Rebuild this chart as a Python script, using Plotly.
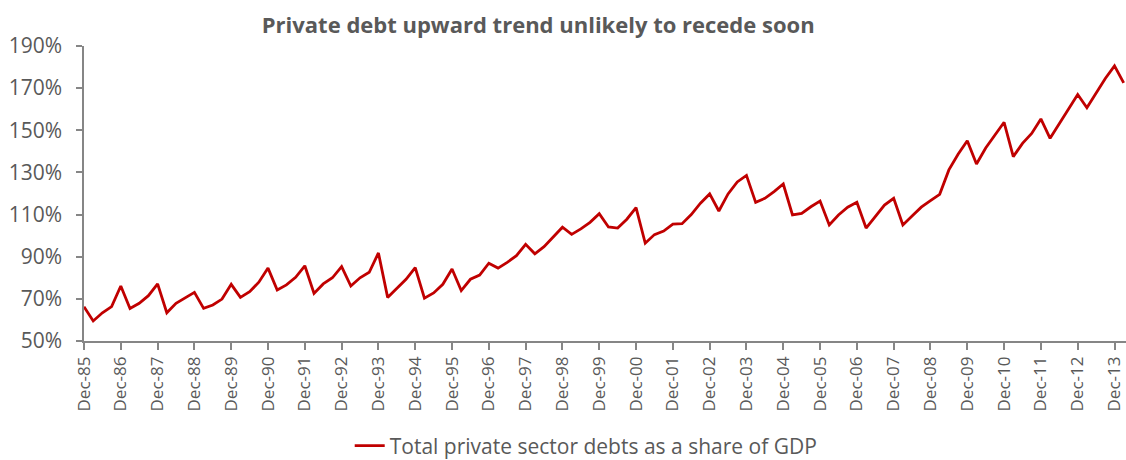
import plotly.graph_objects as go

# Quarterly periods Dec-85 .. Mar-14
months = ["Mar", "Jun", "Sep", "Dec"]
quarters = ["Dec-85"] + [f"{m}-{y % 100:02d}" for y in range(1986, 2014) for m in months] + ["Mar-14"]

debt_share = [
    66.3,
    59.5, 63.4, 66.3, 76.1,
    65.4, 67.9, 71.5, 77.1,
    63.4, 67.9, 70.7, 73.1,
    65.5, 67.1, 69.9, 76.9,
    70.7, 73.4, 77.9, 84.6,
    74.2, 76.6, 80.2, 85.7,
    72.6, 77.1, 80.0, 85.3,
    76.1, 80.0, 82.6, 91.8,
    70.7, 75.0, 79.3, 84.8,
    70.3, 72.8, 76.9, 84.2,
    73.9, 79.3, 81.3, 86.9,
    84.6, 87.3, 90.5, 95.9,
    91.4, 94.8, 99.5, 104.0,
    100.6, 103.2, 106.3, 110.4,
    104.1, 103.6, 107.8, 113.3,
    96.4, 100.5, 102.2, 105.5,
    105.7, 110.0, 115.4, 119.8,
    111.7, 119.8, 125.5, 128.6,
    115.8, 117.7, 120.9, 124.5,
    109.8, 110.6, 113.7, 116.4,
    105.1, 109.8, 113.5, 115.8,
    103.6, 109.3, 114.5, 117.7,
    105.1, 109.3, 113.5, 116.6,
    119.6, 131.2, 138.6, 145.0,
    134.0, 141.6, 147.8, 153.8,
    137.5, 143.8, 148.5, 155.4,
    146.2, 153.0, 160.1, 167.0,
    160.7, 167.5, 174.6, 180.6,
    172.5,
]

tick_labels = [q for q in quarters if q.startswith("Dec")]
y_ticks = [50, 70, 90, 110, 130, 150, 170, 190]

title_text = "Private debt upward trend unlikely to recede soon"
series_name = "Total private sector debts as a share of GDP"

FONT = "Open Sans, Liberation Sans, sans-serif"
GRAY = "#595959"
AXIS = "#868686"

fig = go.Figure()
fig.add_trace(go.Scatter(
    x=quarters, y=debt_share, mode="lines", name=series_name,
    line=dict(color="#C00000", width=2.8),
))

fig.update_layout(
    width=1126, height=460,
    margin=dict(l=84, r=0, t=46, b=119),
    paper_bgcolor="white", plot_bgcolor="white",
    font=dict(family=FONT, color=GRAY),
    title=dict(text=f"<b>{title_text}</b>", x=0.478, xref="container", xanchor="center",
               y=1 - 25 / 460, yref="container", yanchor="middle",
               font=dict(size=22, color=GRAY, family=FONT)),
    showlegend=True,
    legend=dict(orientation="h", x=0.255, xanchor="left", y=(460 - 446) / 460,
                yref="container", yanchor="middle",
                font=dict(size=21, color=GRAY, family=FONT), bgcolor="rgba(0,0,0,0)"),
)

fig.update_xaxes(
    type="category", categoryorder="array", categoryarray=quarters,
    range=[0, len(quarters) - 1 + 0.25],
    tickmode="array", tickvals=tick_labels, ticktext=tick_labels,
    tickangle=-90, tickfont=dict(size=17, color=GRAY, family=FONT),
    ticks="outside", ticklen=7, tickcolor=AXIS, tickwidth=1.5,
    showline=True, linecolor=AXIS, linewidth=1.5,
    showgrid=False, zeroline=False, fixedrange=True,
)
fig.update_yaxes(
    range=[50, 190], tickmode="array", tickvals=y_ticks,
    ticktext=[f"{v}%" for v in y_ticks],
    tickfont=dict(size=21, color=GRAY, family=FONT),
    ticks="outside", ticklen=6, tickcolor=AXIS, tickwidth=1.5, ticklabelstandoff=10,
    showline=True, linecolor=AXIS, linewidth=1.5,
    showgrid=False, zeroline=False, fixedrange=True,
)

fig.write_html("out.html")
